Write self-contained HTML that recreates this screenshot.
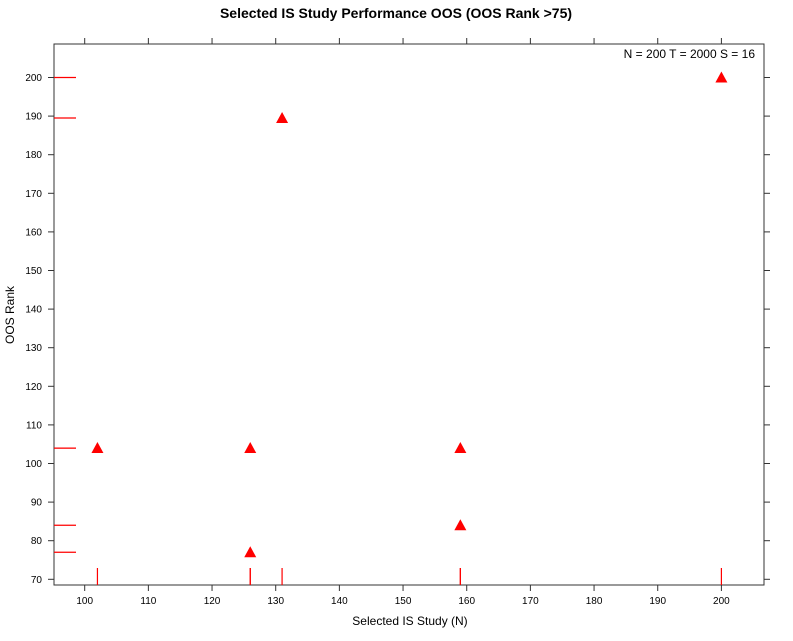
<!DOCTYPE html>
<html><head><meta charset="utf-8"><style>
body{margin:0;background:#fff;}
svg text{font-family:"Liberation Sans",Arial,sans-serif;}
</style></head><body>
<svg id="chart" width="793" height="636" xmlns="http://www.w3.org/2000/svg">
<text x="396" y="18" text-anchor="middle" font-size="14" font-weight="bold">Selected IS Study Performance OOS (OOS Rank &gt;75)</text>
<text x="410" y="625" text-anchor="middle" font-size="12">Selected IS Study (N)</text>
<text transform="translate(14,315) rotate(-90)" text-anchor="middle" font-size="12">OOS Rank</text>
<text x="755" y="58" text-anchor="end" font-size="12">N = 200  T = 2000  S = 16</text>
<rect x="54" y="44" width="710" height="541" fill="none" stroke="#333" stroke-width="1"/>
<g id="axes"></g>
<g id="marks"></g>
</svg>
<script>
const xTicks=[100,110,120,130,140,150,160,170,180,190,200];
const yTicks=[70,80,90,100,110,120,130,140,150,160,170,180,190,200];
const studies=[102,126,126,131,159,159,200];
const ranks=[104,104,77,189.5,104,84,200];
const x=v=>84.7+(v-100)*6.367;
const y=v=>579.3-(v-70)*3.86;
const NS="http://www.w3.org/2000/svg";
function mk(t,a,p){const e=document.createElementNS(NS,t);for(const k in a)e.setAttribute(k,a[k]);p.appendChild(e);return e;}
const ax=document.getElementById('axes'), mg=document.getElementById('marks');
xTicks.forEach(v=>{
 let l=mk('line',{x1:x(v),x2:x(v),y1:585,y2:591,stroke:'#333'},ax);
 
 
 let t=mk('line',{x1:x(v),x2:x(v),y1:44,y2:38,stroke:'#333'},ax);
 
 
 let tx=mk('text',{x:x(v),y:604,'text-anchor':'middle','font-size':10},ax);tx.textContent=v;
 
 
});
yTicks.forEach(v=>{
 let l=mk('line',{x1:48,x2:54,y1:y(v),y2:y(v),stroke:'#333'},ax);
 
 
 let r=mk('line',{x1:764,x2:770,y1:y(v),y2:y(v),stroke:'#333'},ax);
 
 
 let tx=mk('text',{x:42,y:y(v)+3.5,'text-anchor':'end','font-size':10},ax);tx.textContent=v;
 
 
});
studies.forEach((s,i)=>{
 let rb=mk('line',{x1:x(s),x2:x(s),y1:568,y2:585,stroke:'red','stroke-width':1.2},mg);
 
 
 let rl=mk('line',{x1:54,x2:76,y1:y(ranks[i]),y2:y(ranks[i]),stroke:'red','stroke-width':1.2},mg);
 
 
 const cx=x(s),cy=y(ranks[i]);
 let p=mk('polygon',{points:`${cx-6},${cy+5} ${cx+6},${cy+5} ${cx},${cy-6}`,fill:'red'},mg);
 
 
});
</script>
</body></html>
